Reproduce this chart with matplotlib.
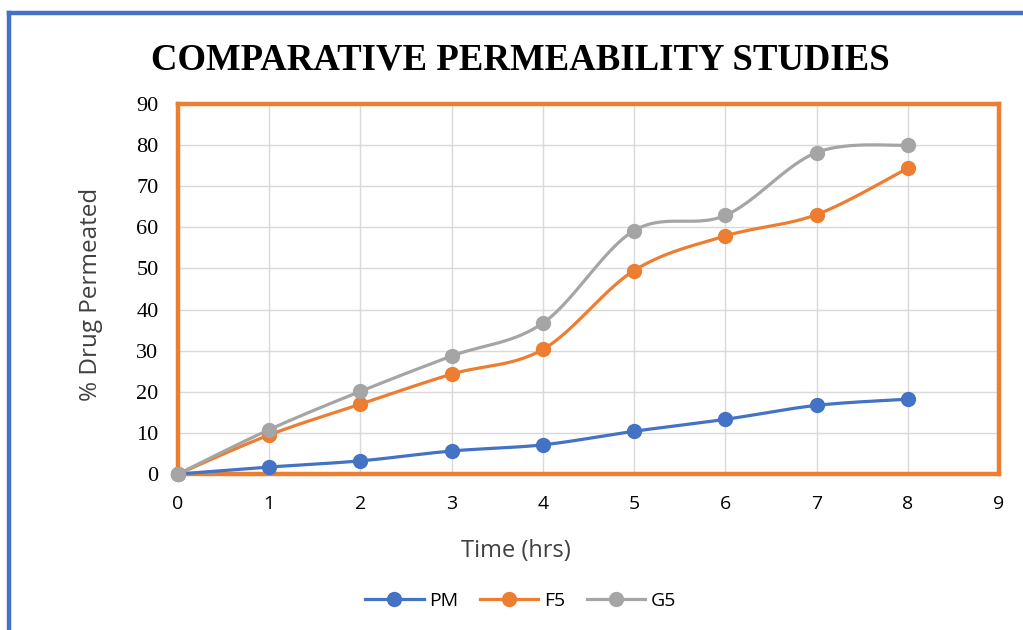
import numpy as np
import matplotlib
matplotlib.use("Agg")
import matplotlib.pyplot as plt
from matplotlib.lines import Line2D

# time points (hrs) and % drug permeated for each formulation
time_hrs = [0, 1, 2, 3, 4, 5, 6, 7, 8]
pm = [0, 1.7, 3.2, 5.6, 7.1, 10.4, 13.3, 16.7, 18.2]
f5 = [0, 9.5, 17.0, 24.3, 30.3, 49.5, 57.9, 63.1, 74.4]
g5 = [0, 10.8, 20.1, 28.7, 36.7, 59.2, 62.9, 78.2, 80.0]

series = [("PM", pm, "#4472C4"), ("F5", f5, "#ED7D31"), ("G5", g5, "#A5A5A5")]
x_ticks = list(range(0, 10))
y_ticks = list(range(0, 100, 10))


def smooth(xs, ys, steps=30):
    """Bezier smoothing between points, like a spreadsheet's smoothed line."""
    p = np.column_stack([xs, ys]).astype(float)
    n = len(p)
    out = [p[0]]
    t = np.linspace(0, 1, steps)[1:, None]
    for i in range(n - 1):
        p0 = p[i - 1] if i > 0 else p[i]
        p3 = p[i + 2] if i + 2 < n else p[i + 1]
        c1 = p[i] + (p[i + 1] - p0) / 6
        c2 = p[i + 1] - (p3 - p[i]) / 6
        seg = ((1 - t) ** 3) * p[i] + 3 * ((1 - t) ** 2) * t * c1 \
            + 3 * (1 - t) * t ** 2 * c2 + t ** 3 * p[i + 1]
        out.extend(seg)
    out = np.array(out)
    return out[:, 0], out[:, 1]


fig = plt.figure(figsize=(10.23, 6.3), dpi=100)
ax = fig.add_axes([0.174, 0.2476, 0.8025, 0.5873])

for name, vals, col in series:
    sx, sy = smooth(time_hrs, vals)
    ax.plot(sx, sy, color=col, lw=2.3, zorder=3, clip_on=False,
            solid_capstyle="round")
    ax.plot(time_hrs, vals, "o", color=col, ms=10, zorder=4, clip_on=False)

ax.set_xlim(0, 9)
ax.set_ylim(0, 90)
ax.set_xticks(x_ticks)
ax.set_yticks(y_ticks)
ax.grid(True, color="#D9D9D9", lw=1)
ax.set_axisbelow(True)
ax.tick_params(length=0)
ax.tick_params(axis="x", pad=15)
ax.tick_params(axis="y", pad=14)
for lab in ax.get_xticklabels():
    lab.set_fontfamily("Open Sans")
    lab.set_fontsize(14)
for lab in ax.get_yticklabels():
    lab.set_fontfamily("Liberation Serif")
    lab.set_fontsize(16)

for sp in ax.spines.values():
    sp.set_color("#ED7D31")
    sp.set_linewidth(3.2)
    sp.set_zorder(2.5)

ax.set_xlabel("Time (hrs)", fontfamily="Open Sans", fontsize=17, color="#404040")
ax.xaxis.set_label_coords(0.412, -0.176)
ax.set_ylabel("% Drug Permeated", fontfamily="Open Sans", fontsize=17.5, color="#404040")
ax.yaxis.set_label_coords(-0.091, 0.485)

fig.text(0.509, 0.905, "COMPARATIVE PERMEABILITY STUDIES", ha="center", va="center",
         fontfamily="Liberation Serif", fontweight="bold", fontsize=26.5)

handles = [Line2D([], [], color=c, lw=2.3, marker="o", ms=10) for _, _, c in series]
fig.legend(handles, [s[0] for s in series], loc="center", bbox_to_anchor=(0.509, 0.046),
           ncol=3, frameon=False, prop={"family": "Open Sans", "size": 14},
           handlelength=3.0, handletextpad=0.3, columnspacing=1.1)

# blue chart-area border (top and left edges)
fig.add_artist(Line2D([0.009, 1.0], [0.979, 0.979], color="#4472C4", lw=3.2,
                      transform=fig.transFigure))
fig.add_artist(Line2D([0.009, 0.009], [0.0, 0.979], color="#4472C4", lw=3.2,
                      transform=fig.transFigure))

fig.savefig("out.png", dpi=100)
